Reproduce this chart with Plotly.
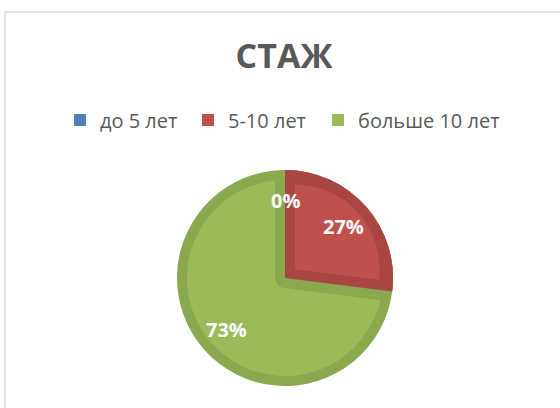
import math
import plotly.graph_objects as go

# ---- data ----
labels = ["до 5 лет", "5-10 лет", "больше 10 лет"]
values = [0, 27, 73]
title_text = "СТАЖ"

# ---- styles ----
light = ["#4F81BD", "#C0504D", "#9BBB59"]
dark = ["#3F6CA3", "#A94643", "#8AA84E"]
TRANSP = "rgba(0,0,0,0)"
GRAY = "#595959"

W, H = 560, 408
CX, CY, R = 285, 278, 108
BAND = 10
LABEL_F = 0.72


def dom(half):
    return dict(x=[(CX - half) / W, (CX + half) / W],
                y=[(H - CY - half) / H, (H - CY + half) / H])


total = sum(values)
theta = 360.0 * values[1] / total
rot = theta
order = [2, 1]
lab2 = [labels[i] for i in order]
val2 = [values[i] for i in order]

s = BAND / math.sin(math.radians(theta / 2))
rb = R - BAND - s
pull_frac = s / rb

common = dict(sort=False, direction="clockwise", textinfo="none",
              hoverinfo="skip")

fig = go.Figure()

# legend carriers (fully covered by the layers drawn above them)
fig.add_trace(go.Pie(labels=labels[:2], values=values[:2], domain=dom(R - 2),
                     marker=dict(colors=light[:2], line=dict(width=0)),
                     showlegend=True, legend="legend", **common))
fig.add_trace(go.Pie(labels=labels[2:], values=values[2:], domain=dom(R - 2),
                     marker=dict(colors=light[2:], line=dict(width=0)),
                     showlegend=True, legend="legend2", **common))
# dark base
fig.add_trace(go.Pie(labels=labels, values=values, domain=dom(R), rotation=0,
                     marker=dict(colors=dark, line=dict(width=0)),
                     showlegend=False, **common))
# light green interior with dark-green band along the red wedge edges
fig.add_trace(go.Pie(labels=lab2, values=val2, domain=dom(R - BAND), rotation=rot,
                     marker=dict(colors=[light[2], dark[2]],
                                 line=dict(color=[light[2], dark[2]],
                                           width=[0, 2 * BAND])),
                     showlegend=False, **common))
# dark red wedge
fig.add_trace(go.Pie(labels=lab2, values=val2, domain=dom(R), rotation=rot,
                     marker=dict(colors=[TRANSP, dark[1]], line=dict(width=0)),
                     showlegend=False, **common))
# light red interior (inset via pull)
fig.add_trace(go.Pie(labels=lab2, values=val2, domain=dom(R - BAND), rotation=rot,
                     pull=[0, pull_frac],
                     marker=dict(colors=[TRANSP, light[1]], line=dict(width=0)),
                     showlegend=False, **common))

# percentage labels placed along each slice bisector
annotations = []
cum = 0.0
for v in values:
    mid = 2 * math.pi * (cum + v / 2) / total
    cum += v
    px = CX + LABEL_F * R * math.sin(mid)
    py = CY - LABEL_F * R * math.cos(mid)
    annotations.append(dict(
        x=px / W, y=1 - py / H, xref="paper", yref="paper",
        text=f"{round(100 * v / total)}%", showarrow=False,
        xanchor="center", yanchor="middle",
        font=dict(family="Open Sans", size=20, color="white", weight="bold")))

leg_font = dict(family="Open Sans", size=20, color=GRAY)

fig.update_layout(
    width=W, height=H,
    margin=dict(l=0, r=0, t=0, b=0),
    paper_bgcolor="white", plot_bgcolor="white",
    title=dict(text=title_text, x=284 / W, xanchor="center",
               y=1 - 56 / H, yanchor="middle",
               font=dict(family="Open Sans", size=34, color=GRAY, weight="bold")),
    legend=dict(orientation="h", x=(80 - 20) / W, xanchor="left",
                y=1 - 120 / H, yanchor="middle",
                entrywidth=83, entrywidthmode="pixels",
                font=leg_font, traceorder="normal"),
    legend2=dict(orientation="h", x=(338 - 20) / W, xanchor="left",
                 y=1 - 120 / H, yanchor="middle",
                 font=leg_font, traceorder="normal"),
    annotations=annotations,
    shapes=[
        dict(type="line", xref="paper", yref="paper",
             x0=5 / W, x1=1.02, y0=1 - 12 / H, y1=1 - 12 / H,
             line=dict(color="#D9D9D9", width=1.5)),
        dict(type="line", xref="paper", yref="paper",
             x0=5 / W, x1=5 / W, y0=1 - 12 / H, y1=-0.02,
             line=dict(color="#D9D9D9", width=1.5)),
    ],
)

fig.write_html("out.html")
